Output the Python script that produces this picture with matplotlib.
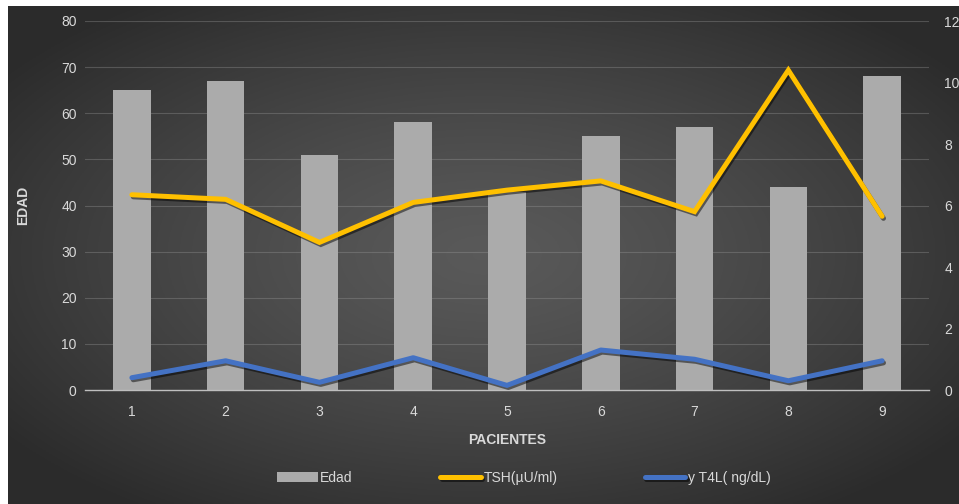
import numpy as np
import matplotlib.pyplot as plt
import matplotlib.patheffects as pe

pacientes = [1, 2, 3, 4, 5, 6, 7, 8, 9]
edad = [65, 67, 51, 58, 43, 55, 57, 44, 68]
tsh = [6.35, 6.2, 4.8, 6.1, 6.5, 6.8, 5.8, 10.4, 5.65]
t4l = [0.4, 0.95, 0.25, 1.05, 0.15, 1.3, 1.0, 0.3, 0.95]

plt.rcParams['font.family'] = ['Liberation Sans', 'DejaVu Sans']
txt = '#d9d9d9'

fig = plt.figure(figsize=(9.59, 5.04), dpi=100, facecolor='white')

# dark radial background
bg = fig.add_axes([8 / 959, 0, 1 - 8 / 959, 498 / 504])
gx, gy = np.meshgrid(np.linspace(-1, 1, 400), np.linspace(-1, 1, 220))
r = np.clip(np.sqrt(gx**2 + gy**2) / 1.25, 0, 1)
shade = 0.35 - 0.18 * r**1.3
bg.imshow(np.dstack([shade] * 3), aspect='auto', extent=[0, 1, 0, 1])
bg.axis('off')

ax = fig.add_axes([85 / 959, 114 / 504, 844 / 959, 369 / 504])
ax.patch.set_alpha(0)
ax.bar(pacientes, edad, width=0.4, color='#ababab', label='Edad', zorder=2)
ax.set_xlim(0.5, 9.5)
ax.set_ylim(0, 80)
ax.set_yticks(range(0, 81, 10))
ax.set_xticks(pacientes)
ax.grid(axis='y', color='#9a9a9a', alpha=0.35, linewidth=0.8, zorder=0)
for s in ['top', 'right', 'left']:
    ax.spines[s].set_visible(False)
ax.spines['bottom'].set_color('#bfbfbf')
ax.spines['bottom'].set_linewidth(1.0)
ax.tick_params(axis='both', length=0, colors=txt, labelsize=10)
ax.tick_params(axis='y', pad=6)
ax.tick_params(axis='x', pad=11)
ax.set_ylabel('EDAD', color=txt, fontsize=10, fontweight='bold', labelpad=22)
ax.set_xlabel('PACIENTES', color=txt, fontsize=10, fontweight='bold', labelpad=10)

ax2 = ax.twinx()
ax2.set_ylim(0, 12)
ax2.set_yticks(range(0, 13, 2))
for s in ax2.spines.values():
    s.set_visible(False)
ax2.tick_params(axis='y', length=0, colors=txt, labelsize=10, pad=11)

shadow = [pe.SimpleLineShadow(offset=(1, -1.5), shadow_color='black', alpha=0.5), pe.Normal()]
ax2.plot(pacientes, tsh, color='#ffc000', linewidth=3.6, label='TSH(µU/ml)',
         path_effects=shadow, solid_joinstyle='miter', solid_capstyle='round')
ax2.plot(pacientes, t4l, color='#4472c4', linewidth=3.6, label='y T4L( ng/dL)',
         path_effects=shadow, solid_joinstyle='round', solid_capstyle='round')

h1, l1 = ax.get_legend_handles_labels()
h2, l2 = ax2.get_legend_handles_labels()
leg = fig.legend(h1 + h2, l1 + l2, loc='center', bbox_to_anchor=(524 / 959, 26 / 504),
                 ncol=3, frameon=False, fontsize=10, handlelength=2.9,
                 handletextpad=0.2, columnspacing=6.3)
for t in leg.get_texts():
    t.set_color(txt)

fig.savefig('out.png', dpi=100, facecolor='white')
